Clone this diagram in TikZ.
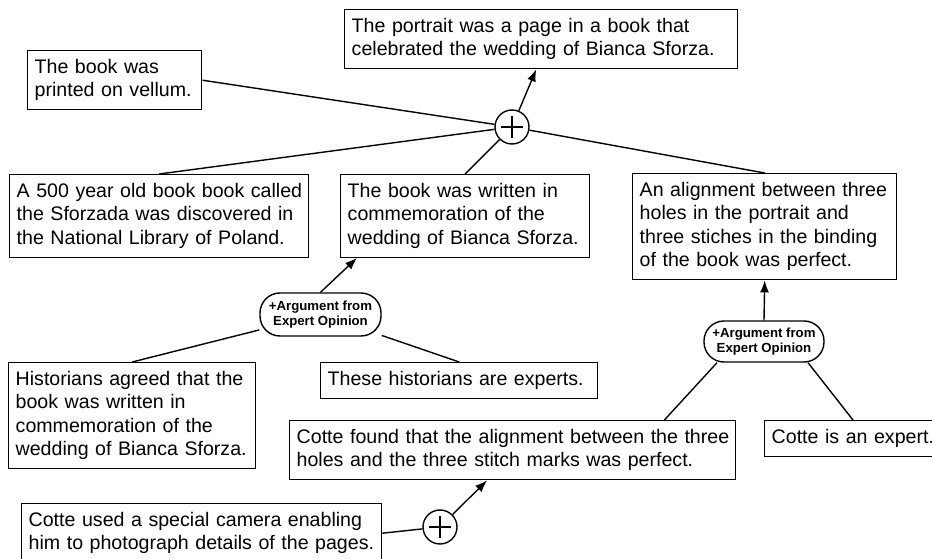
\documentclass[tikz,border=0pt]{standalone}
\usepackage{fontspec}
\setmainfont{Liberation Sans}
\usetikzlibrary{arrows.meta,calc}
\newcommand{\mylines}[1]{\begin{tabular}[t]{@{}l@{}}#1\end{tabular}}
\begin{document}
\begin{tikzpicture}[x=1pt,y=-1pt,
  stmt/.style={draw, line width=1.4pt, anchor=north west, align=left,
    inner xsep=7pt, inner ysep=6pt,
    font=\fontsize{19.6}{23.5}\selectfont},
  argnode/.style={draw, line width=1.4pt, rounded corners=20pt, align=center,
    inner sep=0pt, font=\bfseries\fontsize{13.2}{15}\selectfont},
  plusnode/.style={draw, circle, line width=1.4pt, minimum size=34pt, inner sep=0pt,
    path picture={
      \draw[line width=1.8pt] ([xshift=-11pt]path picture bounding box.center) -- ([xshift=11pt]path picture bounding box.center);
      \draw[line width=1.8pt] ([yshift=-11pt]path picture bounding box.center) -- ([yshift=11pt]path picture bounding box.center);}},
  conn/.style={line width=1.4pt},
  arr/.style={line width=1.4pt, -{Latex[length=12pt,width=9pt]}}
]
\useasboundingbox[fill=white] (0,0) rectangle (932,559);

\node[stmt, text width=379pt] (top) at (344,9) {\mylines{The portrait was a page in a book that\\celebrated the wedding of Bianca Sforza.}};
\node[stmt, text width=160pt] (vellum) at (27,50) {\mylines{The book was\\printed on vellum.}};
\node[stmt, text width=285pt] (a500) at (9,174) {\mylines{A 500 year old book book called\\the Sforzada was discovered in\\the National Library of Poland.}};
\node[stmt, text width=235pt] (written) at (340,174) {\mylines{The book was written in\\commemoration of the\\wedding of Bianca Sforza.}};
\node[stmt, text width=250pt] (align) at (632,173) {\mylines{An alignment between three\\holes in the portrait and\\three stiches in the binding\\of the book was perfect.}};
\node[stmt, text width=233pt] (hist) at (8,362) {\mylines{Historians agreed that the\\book was written in\\commemoration of the\\wedding of Bianca Sforza.}};
\node[stmt, text width=263pt] (these) at (320,362) {\mylines{These historians are experts.}};
\node[stmt, text width=432pt] (found) at (289,420) {\mylines{Cotte found that the alignment between the three\\holes and the three stitch marks was perfect.}};
\node[stmt, text width=172pt] (expert) at (764,420) {\mylines{Cotte is an expert.}};
\node[stmt, text width=346pt] (used) at (21,503) {\mylines{Cotte used a special camera enabling\\him to photograph details of the pages.}};

\node[argnode, minimum width=121pt, minimum height=43pt] (argL) at (320.5,314.5) {+Argument from\\Expert Opinion};
\node[argnode, minimum width=120pt, minimum height=41pt] (argR) at (764,341.5) {+Argument from\\Expert Opinion};

\node[plusnode] (plusT) at (512,127) {};
\node[plusnode] (plusB) at (440,527) {};

\draw[conn] (vellum.east) -- (plusT);
\draw[conn] (a500.north) -- (plusT);
\draw[conn] (written.north) -- (plusT);
\draw[conn] (align.north) -- (plusT);
\draw[arr] (plusT) -- ($(top.south)+(-5,0)$);

\draw[arr] (argL.north) -- ($(written.south west)+(17,0)$);
\draw[conn] (hist.north) -- (argL);
\draw[conn] (these.north) -- (argL);

\draw[arr] (argR.north) -- (align.south);
\draw[conn] ($(found.north east)+(-72,0)$) -- ($(argR.south)+(-47,0)$);
\draw[conn] ($(expert.north west)+(89,0)$) -- ($(argR.south)+(44,0)$);

\draw[conn] (used.east) -- (plusB);
\draw[arr] (plusB) -- ($(found.south west)+(198,0)$);
\end{tikzpicture}
\end{document}
